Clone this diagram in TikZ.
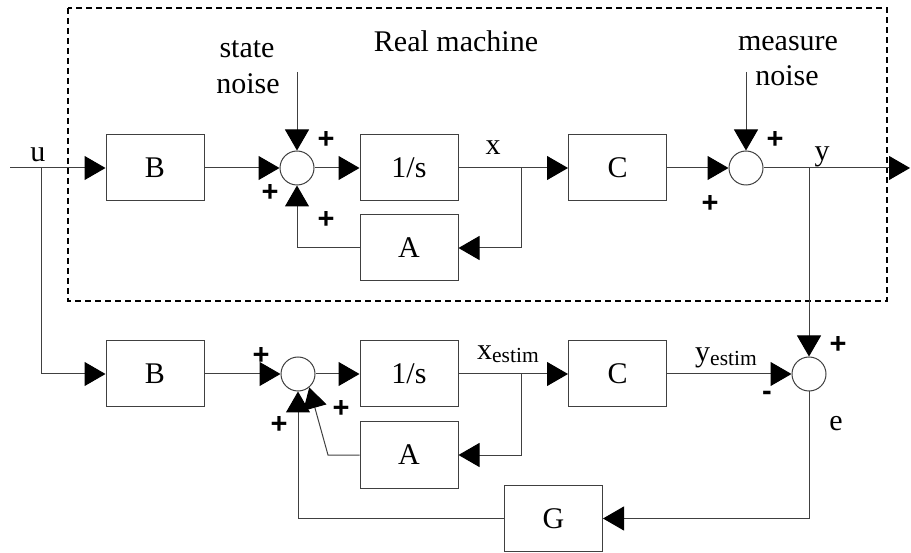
\documentclass[tikz,border=0pt]{standalone}
\usepackage{fontspec}
\setmainfont{Liberation Serif}
\newfontfamily\signfont{Liberation Sans}
\usetikzlibrary{arrows.meta}

\begin{document}
\begin{tikzpicture}[x=1pt,y=-1pt,
  wire/.style={line width=1pt, draw=black!75},
  flow/.style={wire, -{Triangle[length=21pt,width=24pt,color=black]}},
  block/.style={draw=black!75, line width=1pt, minimum width=98pt, minimum height=66pt,
    inner sep=0pt, font=\fontsize{30}{36}\selectfont},
  sumpt/.style={draw=black!75, line width=1pt, circle, minimum size=34pt, inner sep=0pt},
  sign/.style={font=\signfont\bfseries\fontsize{29}{32}\selectfont, inner sep=0pt},
  lbl/.style={font=\fontsize{30}{34}\selectfont, inner sep=0pt, anchor=base},
  frame/.style={line width=1.3pt, dash pattern=on 6pt off 4pt},
]
\useasboundingbox (0,0) rectangle (911,553);

% boundary of the physical system
\draw[frame] (68,8) rectangle (887,301);

% real machine
\node[block] (B1) at (155,168) {B};
\node[sumpt] (S1) at (297,168) {};
\node[block] (I1) at (409,168) {1/s};
\node[block] (A1) at (409,248) {A};
\node[block] (C1) at (617.5,168) {C};
\node[sumpt] (S2) at (746,168) {};

% observer
\node[block] (B2) at (155,374) {B};
\node[sumpt] (S3) at (298,374) {};
\node[block] (I2) at (409,374) {1/s};
\node[block] (A2) at (409,455) {A};
\node[block] (C2) at (617.5,374) {C};
\node[sumpt] (S4) at (809,374) {};
\node[block] (G) at (553.5,518.5) {G};

% free ends and branch points
\coordinate (uin) at (10,168);
\coordinate (ubr) at (41,168);
\coordinate (xbr) at (521,168);
\coordinate (ybr) at (809,168);
\coordinate (yout) at (910,168);
\coordinate (wn) at (297,72);
\coordinate (vn) at (746,72);
\coordinate (xebr) at (521,374);
\coordinate (abend) at (328,455);

% real machine signal flow
\draw[flow] (uin) -- (B1);
\draw[flow] (B1) -- (S1);
\draw[flow] (wn) -- (S1);
\draw[flow] (S1) -- (I1);
\draw[flow] (I1) -- (C1);
\draw[flow] (xbr) |- (A1);
\draw[flow] (A1) -| (S1);
\draw[flow] (C1) -- (S2);
\draw[flow] (vn) -- (S2);
\draw[flow] (S2) -- (yout);

% observer signal flow
\draw[flow] (ubr) |- (B2);
\draw[flow] (B2) -- (S3);
\draw[flow] (S3) -- (I2);
\draw[flow] (I2) -- (C2);
\draw[flow] (xebr) |- (A2);
\draw[flow] (A2) -- (abend) -- (S3.-50);
\draw[flow] (C2) -- (S4);
\draw[flow] (ybr) -- (S4);
\draw[flow] (S4) |- (G);
\draw[flow] (G) -| (S3);

% text labels
\node[lbl] at (247,58) {state};
\node[lbl] at (248,94) {noise};
\node[lbl] at (456,52) {Real machine};
\node[lbl] at (788,51) {measure};
\node[lbl] at (787,86) {noise};
\node[lbl] at (38,162) {u};
\node[lbl] at (493,155) {x};
\node[lbl] at (822,161) {y};
\node[lbl, anchor=base west] at (477,360) {x\raisebox{-3pt}{\fontsize{21.5}{24}\selectfont estim}};
\node[lbl, anchor=base west] at (695,362) {y\raisebox{-4pt}{\fontsize{21.5}{24}\selectfont estim}};
\node[lbl] at (836,431) {e};

% signs at the summing points
\node[sign] at (326,140) {+};
\node[sign] at (270,193) {+};
\node[sign] at (326,220) {+};
\node[sign] at (775,140) {+};
\node[sign] at (710,204) {+};
\node[sign] at (261,356) {+};
\node[sign] at (341,409) {+};
\node[sign] at (279,425) {+};
\node[sign] at (838,345) {+};
\node[sign] at (767,396) {-};
\end{tikzpicture}
\end{document}
